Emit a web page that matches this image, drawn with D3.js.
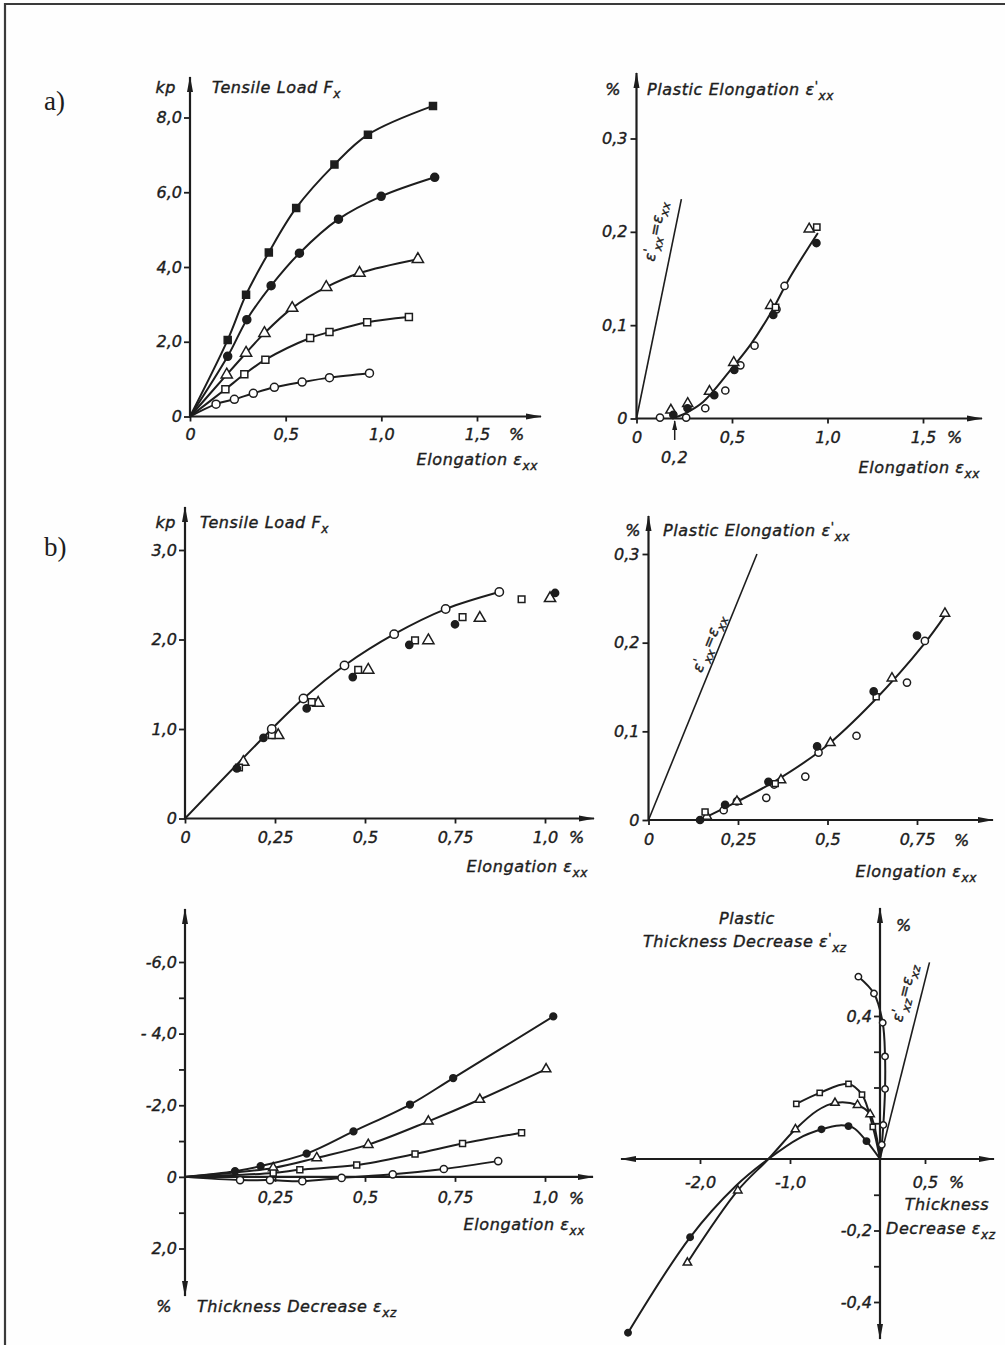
<!DOCTYPE html>
<html>
<head>
<meta charset="utf-8">
<script src="https://cdn.jsdelivr.net/npm/d3@7"></script>
<style>
  body { margin: 0; background: #fff; }
  svg text { font-family: "DejaVu Sans", sans-serif; font-style: italic; fill: #1d1d1d; stroke: #1d1d1d; stroke-width: 0.4px; }
  svg text.serif { font-family: "Liberation Serif", serif; font-style: normal; stroke: none; }
</style>
</head>
<body>
<svg id="fig" width="1005" height="1345"></svg>
<script>
// ---- values ----
const origin = [0, 0];

// a) tensile load vs elongation, five specimens
const loadA_block = [[0.197, 2.05], [0.293, 3.26], [0.412, 4.39], [0.555, 5.58], [0.755, 6.74], [0.930, 7.54], [1.270, 8.31]];
const loadA_dot = [[0.197, 1.61], [0.297, 2.59], [0.424, 3.50], [0.572, 4.37], [0.776, 5.28], [0.999, 5.89], [1.279, 6.40]];
const loadA_tri = [[0.192, 1.12], [0.293, 1.70], [0.389, 2.23], [0.534, 2.90], [0.712, 3.46], [0.886, 3.84], [1.191, 4.21]];
const loadA_square = [[0.185, 0.73], [0.284, 1.13], [0.394, 1.52], [0.628, 2.10], [0.729, 2.26], [0.926, 2.52], [1.144, 2.66]];
const loadA_circle = [[0.136, 0.33], [0.232, 0.46], [0.331, 0.62], [0.441, 0.78], [0.586, 0.92], [0.729, 1.04], [0.938, 1.16]];
const loadA_xTicks = [0, 0.5, 1.0, 1.5];
const loadA_xLabels = ["0", "0,5", "1,0", "1,5"];
const loadA_yTicks = [0, 2, 4, 6, 8];
const loadA_yLabels = ["0", "2,0", "4,0", "6,0", "8,0"];

// a) plastic elongation vs elongation
const plastA_circle = [[0.123, 0.001], [0.26, 0.001], [0.36, 0.011], [0.465, 0.030], [0.544, 0.057], [0.618, 0.078], [0.733, 0.117], [0.775, 0.142]];
const plastA_tri = [[0.18, 0.009], [0.268, 0.016], [0.382, 0.029], [0.509, 0.060], [0.702, 0.121], [0.904, 0.203]];
const plastA_dot = [[0.193, 0.004], [0.267, 0.011], [0.407, 0.025], [0.512, 0.052], [0.716, 0.111], [0.942, 0.188]];
const plastA_square = [[0.728, 0.119], [0.944, 0.205]];
const plastA_fit = [[0.19, 0], [0.26, 0.006], [0.35, 0.018], [0.5, 0.054], [0.6, 0.080], [0.7, 0.112], [0.8, 0.150], [0.947, 0.198]];
const plastA_identity = [[0, 0], [0.235, 0.235]];
const plastA_xTicks = [0, 0.5, 1.0, 1.5];
const plastA_xLabels = ["0", "0,5", "1,0", "1,5"];
const plastA_yTicks = [0, 0.1, 0.2, 0.3];
const plastA_yLabels = ["0", "0,1", "0,2", "0,3"];
const plastA_offset = 0.2;

// b) tensile load vs elongation
const loadB_circle = [[0.241, 1.00], [0.329, 1.34], [0.443, 1.71], [0.581, 2.06], [0.724, 2.34], [0.873, 2.53]];
const loadB_square = [[0.15, 0.57], [0.241, 0.93], [0.352, 1.30], [0.481, 1.66], [0.639, 1.99], [0.771, 2.25], [0.935, 2.45]];
const loadB_dot = [[0.144, 0.56], [0.218, 0.90], [0.338, 1.23], [0.466, 1.58], [0.623, 1.94], [0.75, 2.17], [1.028, 2.52]];
const loadB_tri = [[0.162, 0.63], [0.259, 0.93], [0.370, 1.29], [0.509, 1.66], [0.676, 1.99], [0.819, 2.24], [1.014, 2.46]];
const loadB_xTicks = [0, 0.25, 0.5, 0.75, 1.0];
const loadB_xLabels = ["0", "0,25", "0,5", "0,75", "1,0"];
const loadB_yTicks = [0, 1, 2, 3];
const loadB_yLabels = ["0", "1,0", "2,0", "3,0"];

// b) plastic elongation vs elongation
const plastB_circle = [[0.21, 0.011], [0.247, 0.021], [0.329, 0.025], [0.351, 0.040], [0.438, 0.049], [0.475, 0.076], [0.581, 0.095], [0.722, 0.155], [0.772, 0.202]];
const plastB_dot = [[0.144, 0], [0.214, 0.017], [0.335, 0.043], [0.471, 0.083], [0.629, 0.145], [0.75, 0.208]];
const plastB_tri = [[0.163, 0.004], [0.247, 0.021], [0.37, 0.045], [0.508, 0.087], [0.68, 0.16], [0.828, 0.233]];
const plastB_square = [[0.158, 0.009], [0.354, 0.041], [0.636, 0.139]];
const plastB_fit = [[0.144, 0], [0.21, 0.013], [0.35, 0.043], [0.489, 0.081], [0.629, 0.134], [0.769, 0.198], [0.829, 0.231]];
const plastB_identity = [[0, 0], [0.303, 0.3]];
const plastB_xTicks = [0, 0.25, 0.5, 0.75];
const plastB_xLabels = ["0", "0,25", "0,5", "0,75"];
const plastB_yTicks = [0, 0.1, 0.2, 0.3];
const plastB_yLabels = ["0", "0,1", "0,2", "0,3"];

// b) thickness decrease vs elongation
const thick_dot = [[0.139, -0.16], [0.21, -0.30], [0.338, -0.65], [0.468, -1.27], [0.625, -2.02], [0.745, -2.76], [1.023, -4.48]];
const thick_tri = [[0.245, -0.25], [0.366, -0.53], [0.509, -0.90], [0.676, -1.55], [0.819, -2.16], [1.003, -3.01]];
const thick_square = [[0.245, -0.11], [0.319, -0.20], [0.477, -0.33], [0.639, -0.64], [0.771, -0.93], [0.935, -1.23]];
const thick_circle = [[0.153, 0.09], [0.236, 0.09], [0.326, 0.12], [0.435, 0.03], [0.577, -0.07], [0.719, -0.22], [0.870, -0.44]];
const thick_xTicks = [0.25, 0.5, 0.75, 1.0];
const thick_xLabels = ["0,25", "0,5", "0,75", "1,0"];
const thick_yTicks = [-6, -5, -4, -3, -2, -1, 0, 1, 2];
const thick_yLabels = ["-6,0", "", "- 4,0", "", "-2,0", "", "0", "", "2,0"];

// b) plastic thickness decrease vs thickness decrease
const plThick_dot = [[-2.8, -0.486], [-2.11, -0.219], [-0.65, 0.083], [-0.35, 0.092], [-0.15, 0.05]];
const plThick_dotCurve = [[-2.8, -0.486], [-2.11, -0.219], [-1.6, -0.075], [-1.24, 0], [-0.9, 0.058], [-0.65, 0.083], [-0.45, 0.094], [-0.3, 0.088], [-0.15, 0.05], [0, 0]];
const plThick_tri = [[-2.14, -0.29], [-1.58, -0.088], [-0.94, 0.083], [-0.5, 0.157], [-0.25, 0.151], [-0.11, 0.125]];
const plThick_triCurve = [[-2.14, -0.29], [-1.58, -0.088], [-1.24, 0], [-0.94, 0.083], [-0.7, 0.135], [-0.5, 0.157], [-0.25, 0.151], [-0.11, 0.125], [0, 0]];
const plThick_square = [[-0.93, 0.154], [-0.67, 0.185], [-0.35, 0.21], [-0.2, 0.18], [-0.08, 0.09]];
const plThick_squareCurve = [[-0.93, 0.154], [-0.67, 0.185], [-0.35, 0.21], [-0.2, 0.18], [-0.08, 0.09], [0, 0]];
const plThick_circle = [[-0.24, 0.51], [-0.067, 0.463], [0.03, 0.381], [0.056, 0.287], [0.056, 0.196], [0.037, 0.095], [0.02, 0.04]];
const plThick_circleCurve = [[-0.24, 0.51], [-0.067, 0.463], [0.03, 0.381], [0.056, 0.287], [0.056, 0.196], [0.037, 0.095], [0.02, 0.04], [0, 0]];
const plThick_identity = [[0, 0], [0.55, 0.55]];
const plThick_xTicks = [-2, -1, 0.5];
const plThick_xLabels = ["-2,0", "-1,0", "0,5"];
const plThick_yTicks = [-0.4, -0.3, -0.2, -0.1, 0.1, 0.2, 0.3, 0.4];
const plThick_yLabels = ["-0,4", "", "-0,2", "", "", "", "", "0,4"];

// ---- drawing ----
const ink = "#1d1d1d";
const svg = d3.select("#fig");

svg.append("rect").attr("width", 1005).attr("height", 1345).attr("fill", "#fefefe");
svg.append("path").attr("d", "M5,1345 L5,4 L1005,4")
  .attr("fill", "none").attr("stroke", "#3a3a3a").attr("stroke-width", 2.2);

const defs = svg.append("defs");
defs.append("marker").attr("id", "arrow")
  .attr("viewBox", "0 0 16 8").attr("refX", 15).attr("refY", 4)
  .attr("markerWidth", 16).attr("markerHeight", 8)
  .attr("markerUnits", "userSpaceOnUse").attr("orient", "auto-start-reverse")
  .append("path").attr("d", "M0,1 L16,4 L0,7 Z").attr("fill", ink);
defs.append("marker").attr("id", "arrowSm")
  .attr("viewBox", "0 0 10 6").attr("refX", 9).attr("refY", 3)
  .attr("markerWidth", 10).attr("markerHeight", 6)
  .attr("markerUnits", "userSpaceOnUse").attr("orient", "auto")
  .append("path").attr("d", "M0,0.5 L10,3 L0,5.5 Z").attr("fill", ink);

function styleAxis(a) {
  a.attr("font-family", null).attr("font-size", null);
  a.select(".domain").remove();
  a.selectAll(".tick line").attr("stroke", ink).attr("stroke-width", 1.8);
  a.selectAll(".tick text").attr("font-size", 16).attr("fill", ink);
}

// text with sub/superscript pieces: "_xx" is a subscript, "^'" a raised piece
function label(g, px, py, parts, opt = {}) {
  const size = opt.size || 16;
  const t = g.append("text").attr("x", px).attr("y", py)
    .attr("font-size", size).attr("letter-spacing", opt.spacing == null ? 0.6 : opt.spacing)
    .attr("text-anchor", opt.anchor || "start");
  let shift = 0;
  parts.forEach(p => {
    const sub = p[0] === "_", sup = p[0] === "^";
    const target = sub ? size * 0.32 : sup ? -size * 0.3 : 0;
    const s = t.append("tspan").text(sub || sup ? p.slice(1) : p).attr("dy", target - shift);
    if (sub || sup) s.attr("font-size", size * 0.75);
    shift = target;
  });
  if (opt.rotate) t.attr("transform", `rotate(${opt.rotate},${px},${py})`);
  return t;
}

function makePanel(p) {
  const g = svg.append("g");
  const x = d3.scaleLinear().domain(p.xDomain).range(p.xRange);
  const y = d3.scaleLinear().domain(p.yDomain).range(p.yRange);
  const x0 = x(0), y0 = y(0);

  g.append("g").attr("transform", `translate(0,${y0})`)
    .call(d3.axisBottom(x).tickValues(p.xTicks).tickFormat((d, i) => p.xLabels[i])
      .tickSize(5).tickPadding(p.xPad).tickSizeOuter(0))
    .call(styleAxis);
  g.append("g").attr("transform", `translate(${x0},0)`)
    .call(d3.axisLeft(y).tickValues(p.yTicks).tickFormat((d, i) => p.yLabels[i])
      .tickSize(6).tickPadding(p.yPad).tickSizeOuter(0))
    .call(styleAxis);

  const xl = g.append("line").attr("x1", p.xAxis[0]).attr("x2", p.xAxis[1])
    .attr("y1", y0).attr("y2", y0).attr("stroke", ink).attr("stroke-width", 2.2)
    .attr("marker-end", "url(#arrow)");
  if (p.xBoth) xl.attr("marker-start", "url(#arrow)");
  const yl = g.append("line").attr("x1", x0).attr("x2", x0)
    .attr("y1", p.yAxis[0]).attr("y2", p.yAxis[1]).attr("stroke", ink).attr("stroke-width", 2.2)
    .attr("marker-end", "url(#arrow)");
  if (p.yBoth) yl.attr("marker-start", "url(#arrow)");
  return { g, x, y };
}

function curve(P, data, width = 2) {
  P.g.append("path").datum(data)
    .attr("d", d3.line().x(d => P.x(d[0])).y(d => P.y(d[1])).curve(d3.curveCatmullRom.alpha(0.5)))
    .attr("fill", "none").attr("stroke", ink).attr("stroke-width", width)
    .attr("stroke-linecap", "round");
}

function straight(P, data, width = 1.6) {
  P.g.append("path").datum(data)
    .attr("d", d3.line().x(d => P.x(d[0])).y(d => P.y(d[1])))
    .attr("fill", "none").attr("stroke", ink).attr("stroke-width", width);
}

const shapes = { circle: d3.symbolCircle, dot: d3.symbolCircle, square: d3.symbolSquare, block: d3.symbolSquare, tri: d3.symbolTriangle };
function marks(P, data, kind, r = 4) {
  const filled = kind === "dot" || kind === "block";
  const area = kind === "tri" ? r * r * 3.4 : (kind === "square" || kind === "block") ? (1.75 * r) ** 2 : Math.PI * r * r;
  P.g.selectAll(null).data(data).enter().append("path")
    .attr("d", d3.symbol(shapes[kind], area))
    .attr("transform", d => `translate(${P.x(d[0])},${P.y(d[1])})`)
    .attr("fill", filled ? ink : "#fff").attr("stroke", ink).attr("stroke-width", 1.5);
}

// panel labels
svg.append("text").attr("class", "serif").attr("x", 44).attr("y", 110).attr("font-size", 27).text("a)");
svg.append("text").attr("class", "serif").attr("x", 44).attr("y", 556).attr("font-size", 27).text("b)");

// ---- a) left ----
{
  const P = makePanel({
    xDomain: [0, 1.5], xRange: [190, 477], yDomain: [0, 8], yRange: [416.5, 117.5],
    xTicks: loadA_xTicks, xLabels: loadA_xLabels, yTicks: loadA_yTicks, yLabels: loadA_yLabels,
    xPad: 7, yPad: 2, xAxis: [190, 541], yAxis: [416.5, 77]
  });
  [[loadA_block, "block"], [loadA_dot, "dot"], [loadA_tri, "tri"], [loadA_square, "square"], [loadA_circle, "circle"]]
    .forEach(([s, k]) => curve(P, [origin].concat(s)));
  [[loadA_block, "block"], [loadA_dot, "dot"], [loadA_tri, "tri"], [loadA_square, "square"], [loadA_circle, "circle"]]
    .forEach(([s, k]) => marks(P, s, k, 4));
  label(P.g, 176, 93, ["kp"], { anchor: "end" });
  label(P.g, 212, 93, ["Tensile Load F", "_x"]);
  label(P.g, 517, 440, ["%"], { anchor: "middle" });
  label(P.g, 538, 465, ["Elongation ε", "_xx"], { anchor: "end" });
}

// ---- a) right ----
{
  const P = makePanel({
    xDomain: [0, 1.5], xRange: [636.5, 923], yDomain: [0, 0.3], yRange: [418.5, 138.5],
    xTicks: plastA_xTicks, xLabels: plastA_xLabels, yTicks: plastA_yTicks, yLabels: plastA_yLabels,
    xPad: 8, yPad: 3, xAxis: [636.5, 982], yAxis: [418.5, 73]
  });
  straight(P, plastA_identity);
  curve(P, plastA_fit);
  marks(P, plastA_circle, "circle", 3.6);
  marks(P, plastA_tri, "tri", 3.6);
  marks(P, plastA_dot, "dot", 3.6);
  marks(P, plastA_square, "square", 3.6);
  const xo = P.x(plastA_offset);
  P.g.append("line").attr("x1", xo).attr("x2", xo).attr("y1", 440).attr("y2", 421)
    .attr("stroke", ink).attr("stroke-width", 1.5).attr("marker-end", "url(#arrowSm)");
  label(P.g, xo, 463, ["0,2"], { anchor: "middle" });
  label(P.g, 955, 443, ["%"], { anchor: "middle" });
  label(P.g, 621, 95, ["%"], { anchor: "end" });
  label(P.g, 647, 95, ["Plastic Elongation ε", "^'", "_xx"]);
  label(P.g, 980, 473, ["Elongation  ε", "_xx"], { anchor: "end" });
  label(P.g, 660, 232, ["ε", "^'", "_xx", "=ε", "_xx"], { anchor: "middle", rotate: -79, size: 15, spacing: 0.3 });
}

// ---- b) left ----
{
  const P = makePanel({
    xDomain: [0, 1], xRange: [185, 545], yDomain: [0, 3], yRange: [818.5, 550],
    xTicks: loadB_xTicks, xLabels: loadB_xLabels, yTicks: loadB_yTicks, yLabels: loadB_yLabels,
    xPad: 8, yPad: 2, xAxis: [185, 594], yAxis: [818.5, 507]
  });
  curve(P, [origin].concat(loadB_circle));
  marks(P, loadB_tri, "tri", 4);
  marks(P, loadB_square, "square", 3.8);
  marks(P, loadB_dot, "dot", 3.6);
  marks(P, loadB_circle, "circle", 4.2);
  label(P.g, 176, 528, ["kp"], { anchor: "end" });
  label(P.g, 200, 528, ["Tensile Load F", "_x"]);
  label(P.g, 577, 843, ["%"], { anchor: "middle" });
  label(P.g, 588, 872, ["Elongation ε", "_xx"], { anchor: "end" });
}

// ---- b) right ----
{
  const P = makePanel({
    xDomain: [0, 0.75], xRange: [648.5, 917], yDomain: [0, 0.3], yRange: [820, 554],
    xTicks: plastB_xTicks, xLabels: plastB_xLabels, yTicks: plastB_yTicks, yLabels: plastB_yLabels,
    xPad: 9, yPad: 3, xAxis: [648.5, 993], yAxis: [820, 516]
  });
  straight(P, plastB_identity);
  curve(P, plastB_fit);
  marks(P, plastB_circle, "circle", 3.6);
  marks(P, plastB_tri, "tri", 3.4);
  marks(P, plastB_square, "square", 3.4);
  marks(P, plastB_dot, "dot", 3.6);
  label(P.g, 641, 536, ["%"], { anchor: "end" });
  label(P.g, 663, 536, ["Plastic Elongation ε", "^'", "_xx"]);
  label(P.g, 962, 846, ["%"], { anchor: "middle" });
  label(P.g, 977, 877, ["Elongation ε", "_xx"], { anchor: "end" });
  label(P.g, 713, 645, ["ε", "^'", "_xx", "=ε", "_xx"], { anchor: "middle", rotate: -68, size: 15, spacing: 0.3 });
}

// ---- b) bottom left ----
{
  const P = makePanel({
    xDomain: [0, 1], xRange: [185, 545], yDomain: [-6, 2], yRange: [962, 1248.5],
    xTicks: thick_xTicks, xLabels: thick_xLabels, yTicks: thick_yTicks, yLabels: thick_yLabels,
    xPad: 10, yPad: 2, xAxis: [185, 593], yAxis: [1296, 909], yBoth: true
  });
  [thick_dot, thick_tri, thick_square, thick_circle].forEach(s => curve(P, [origin].concat(s)));
  marks(P, thick_dot, "dot", 3.4);
  marks(P, thick_tri, "tri", 3.4);
  marks(P, thick_square, "square", 3.4);
  marks(P, thick_circle, "circle", 3.6);
  label(P.g, 545 + 32, 1204, ["%"], { anchor: "middle" });
  label(P.g, 585, 1230, ["Elongation ε", "_xx"], { anchor: "end" });
  label(P.g, 172, 1312, ["%"], { anchor: "end" });
  label(P.g, 197, 1312, ["Thickness Decrease ε", "_xz"]);
}

// ---- b) bottom right ----
{
  const P = makePanel({
    xDomain: [-2, 0.5], xRange: [700, 925], yDomain: [-0.4, 0.4], yRange: [1302, 1016],
    xTicks: plThick_xTicks, xLabels: plThick_xLabels, yTicks: plThick_yTicks, yLabels: plThick_yLabels,
    xPad: 13, yPad: 2, xAxis: [621, 994], xBoth: true, yAxis: [1339, 908], yBoth: true
  });
  straight(P, plThick_identity);
  curve(P, plThick_dotCurve);
  curve(P, plThick_triCurve);
  curve(P, plThick_squareCurve);
  curve(P, plThick_circleCurve);
  marks(P, plThick_dot, "dot", 3.2);
  marks(P, plThick_tri, "tri", 3.0);
  marks(P, plThick_square, "square", 3.0);
  marks(P, plThick_circle, "circle", 3.2);
  label(P.g, 747, 924, ["Plastic"], { anchor: "middle" });
  label(P.g, 643, 947, ["Thickness Decrease ε", "^'", "_xz"]);
  label(P.g, 896, 931, ["%"]);
  label(P.g, 957, 1188, ["%"], { anchor: "middle" });
  label(P.g, 947, 1210, ["Thickness"], { anchor: "middle" });
  label(P.g, 886, 1234, ["Decrease ε", "_xz"]);
  label(P.g, 909, 994, ["ε", "^'", "_xz", "=ε", "_xz"], { anchor: "middle", rotate: -76, size: 15, spacing: 0.3 });
}
</script>
</body>
</html>
